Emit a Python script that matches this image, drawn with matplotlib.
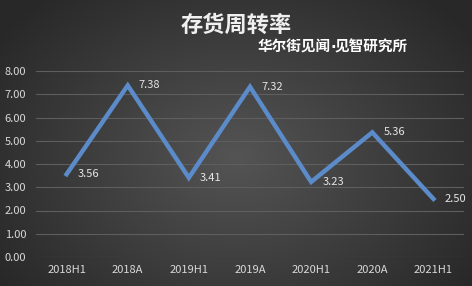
import numpy as np
import matplotlib
matplotlib.use("Agg")
import matplotlib.pyplot as plt

plt.rcParams['font.family'] = ['Noto Sans CJK SC', 'DejaVu Sans']

periods = ["2018H1", "2018A", "2019H1", "2019A", "2020H1", "2020A", "2021H1"]
turnover = [3.56, 7.38, 3.41, 7.32, 3.23, 5.36, 2.50]
yticks = [0, 1, 2, 3, 4, 5, 6, 7, 8]

W, H = 472, 286
fig = plt.figure(figsize=(W / 100, H / 100), dpi=100)

# radial gradient background
bg = fig.add_axes([0, 0, 1, 1])
yy, xx = np.mgrid[0:H, 0:W]
r = np.sqrt(((xx - W * 0.5) / (W * 0.6)) ** 2 + ((yy - H * 0.55) / (H * 0.75)) ** 2)
r = np.clip(r, 0, 1)
shade = 0.33 - 0.17 * r
bg.imshow(np.dstack([shade] * 3), aspect="auto", extent=[0, 1, 0, 1])
bg.axis("off")

ax = fig.add_axes([36 / W, 1 - 257 / H, 428 / W, (257 - 71) / H])
ax.set_facecolor("none")
x = np.arange(len(periods))
ax.plot(x, turnover, color="#5b8bc9", lw=3.2, solid_joinstyle="miter")
for xi, v in zip(x, turnover):
    ax.annotate(f"{v:.2f}", (xi, v), xytext=(8, 0), textcoords="offset points",
                va="center", ha="left", color="#e6e6e6", fontsize=8)

ax.set_xlim(-0.5, len(periods) - 0.5)
ax.set_ylim(0, 8)
ax.set_yticks(yticks)
ax.set_yticklabels([f"{t:.2f}" for t in yticks])
ax.set_xticks(x)
ax.set_xticklabels(periods)
ax.tick_params(colors="#d9d9d9", labelsize=8, length=0, pad=6)
ax.tick_params(axis="y", pad=7)
ax.grid(axis="y", color="#5e5e5e", lw=0.8)
ax.set_axisbelow(True)
for s in ax.spines.values():
    s.set_visible(False)

fig.text(236 / W, 1 - 25 / H, "存货周转率", ha="center", va="center",
         color="#f0f0f0", fontsize=16, fontweight="bold")
fig.text(331 / W, 1 - 47 / H, "华尔街见闻", ha="right", va="center",
         color="#ffffff", fontsize=10.5, fontweight="bold")
fig.text(333 / W, 1 - 47 / H, "·", ha="center", va="center",
         color="#ffffff", fontsize=10.5, fontweight="bold", family="DejaVu Sans")
fig.text(335 / W, 1 - 47 / H, "见智研究所", ha="left", va="center",
         color="#ffffff", fontsize=10.5, fontweight="bold")

fig.savefig("out.png", dpi=100)
